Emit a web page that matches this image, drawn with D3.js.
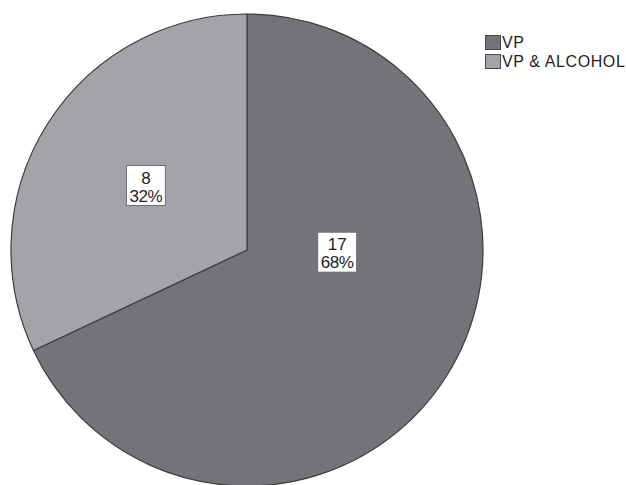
<script src='https://d3js.org/d3.v7.min.js'></script>
<style>
  body {margin:0; background:#fff;}
  svg {display:block; font-family:'Liberation Sans',Arial,sans-serif;}
</style>
<svg id='chart'></svg>
<script>
// data
const categories=['VP','VP & ALCOHOL'];
const counts=[17,8];
const percents=['68%','32%'];

const W=626,H=485;
const cx=247,cy=250,R=236;
const colors=d3.scaleOrdinal().domain(categories).range(['#737478','#a3a4a8']);
// label placement: fraction of radius and angle shift (deg) from the mid angle
const labelPlace={'VP':{f:0.38,shift:-31},'VP & ALCOHOL':{f:0.51,shift:0}};

var svg=d3.select('#chart').attr('width',W).attr('height',H);

var data=categories.map(function(c,i){return {cat:c,n:counts[i],pct:percents[i]};});
var pie=d3.pie().sort(null).value(function(d){return d.n;});
var arcs=pie(data);
var arc=d3.arc().innerRadius(0).outerRadius(R);

var g=svg.append('g').attr('transform','translate('+cx+','+cy+')');
g.selectAll('path.slice').data(arcs).enter().append('path')
 .attr('class','slice').attr('d',arc)
 .attr('fill',function(d){return colors(d.data.cat);})
 .attr('stroke','#3c3c3e').attr('stroke-width',1.2)
 .attr('stroke-linejoin','round');

var lab=g.selectAll('g.lab').data(arcs).enter().append('g').attr('class','lab')
 .attr('transform',function(d){
    var p=labelPlace[d.data.cat];
    var a=(d.startAngle+d.endAngle)/2+p.shift*Math.PI/180;
    var r=R*p.f;
    return 'translate('+(Math.sin(a)*r)+','+(-Math.cos(a)*r)+')';});
lab.append('rect').attr('x',-19).attr('y',-20).attr('width',39).attr('height',40)
 .attr('fill','#fff').attr('stroke','#6e6e70').attr('stroke-width',1);
lab.append('text').attr('text-anchor','middle').attr('x',0.5).attr('y',-2)
 .attr('font-size',17).attr('fill','#1e1e1e').text(function(d){return d.data.n;});
lab.append('text').attr('text-anchor','middle').attr('x',0.5).attr('y',16)
 .attr('font-size',17).attr('fill','#1e1e1e').style('letter-spacing','-0.4px')
 .text(function(d){return d.data.pct;});

// legend
var leg=svg.append('g').attr('transform','translate(485,35)');
var li=leg.selectAll('g').data(categories).enter().append('g')
 .attr('transform',function(d,i){return 'translate(0,'+(i*19)+')';});
li.append('rect').attr('x',0.5).attr('y',0.5).attr('width',15).attr('height',14)
 .attr('fill',function(d){return colors(d);})
 .attr('stroke','#4a4a4c').attr('stroke-width',1);
li.append('text').attr('x',17).attr('y',13).attr('font-size',16)
 .attr('fill','#1e1e1e').style('letter-spacing','0.6px').text(function(d){return d;});
</script>
